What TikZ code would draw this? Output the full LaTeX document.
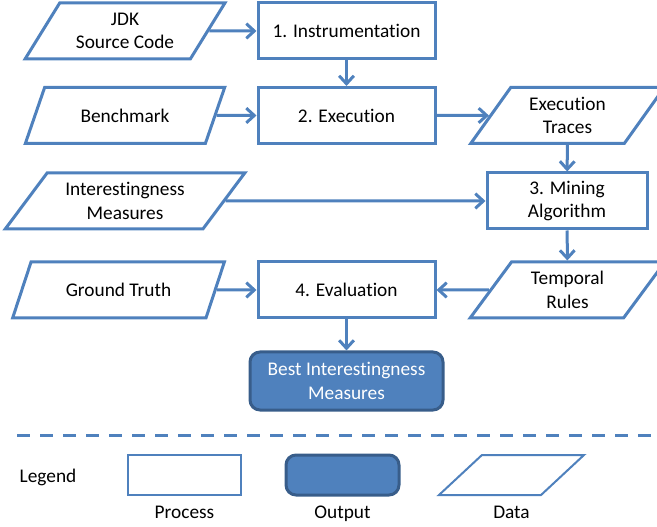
\documentclass[tikz,border=0pt]{standalone}
\usepackage{fontspec}
\setmainfont{Carlito}[Ligatures={NoCommon}]
\usetikzlibrary{shapes.geometric,arrows.meta}
\definecolor{flowblue}{RGB}{79,129,189}
\definecolor{flowdark}{RGB}{56,93,138}
\tikzset{every picture/.style={line width=2.25pt}}
\tikzset{
  flowtext/.style={font=\fontsize{14.5}{17.5}\selectfont, align=center, inner sep=0.75pt},
  procbox/.style={flowtext, draw=flowblue, fill=white, rectangle, minimum height=42pt},
  databox/.style={flowtext, draw=flowblue, fill=white, trapezium, trapezium stretches=true, minimum height=42pt},
  outbox/.style={flowtext, draw=flowdark, fill=flowblue, text=white, rectangle, rounded corners=7.5pt, minimum height=43.5pt},
  flowarrow/.style={draw=flowblue, -{Straight Barb[length=6pt,width=11pt]}},
}

\begin{document}
\begin{tikzpicture}[x=0.75pt,y=0.75pt,yscale=-1,xscale=1]
\useasboundingbox (0,0) rectangle (657,527);

%Shape: Parallelogram [id:jdk]
\node (jdk) [databox, trapezium left angle=55, trapezium right angle=125, minimum width=150pt] at (125,31) {JDK\\Source Code};
%Shape: Rectangle [id:instr]
\node (instr) [procbox, minimum width=132.75pt] at (346.5,31) {1. Instrumentation};
%Shape: Parallelogram [id:bench]
\node (bench) [databox, trapezium left angle=55, trapezium right angle=125, minimum width=150pt] at (125,115.5) {Benchmark};
%Shape: Rectangle [id:exec]
\node (exec) [procbox, minimum width=132.75pt] at (346.5,115.5) {2. Execution};
%Shape: Parallelogram [id:traces]
\node (traces) [databox, trapezium left angle=54.5, trapezium right angle=125.5, minimum width=146.25pt] at (567.5,115.5) {Execution\\Traces};
%Shape: Parallelogram [id:measures]
\node (measures) [databox, trapezium left angle=50, trapezium right angle=130, minimum width=180pt] at (125,201) {Interestingness\\Measures};
%Shape: Rectangle [id:mining]
\node (mining) [procbox, minimum width=120pt] at (567,201) {3. Mining\\Algorithm};
%Shape: Parallelogram [id:truth]
\node (truth) [databox, trapezium left angle=54, trapezium right angle=126, minimum width=159.75pt] at (118.5,290) {Ground Truth};
%Shape: Rectangle [id:eval]
\node (eval) [procbox, minimum width=132.75pt] at (346.5,290) {4. Evaluation};
%Shape: Parallelogram [id:rules]
\node (rules) [databox, trapezium left angle=54.5, trapezium right angle=125.5, minimum width=146.25pt] at (567.5,290) {Temporal\\Rules};
%Shape: Rounded Rect [id:best]
\node (best) [outbox, minimum width=144.75pt] at (346.5,381) {Best Interestingness\\Measures};

%Straight Lines
\draw [flowarrow] (jdk) -- (instr);
\draw [flowarrow] (instr) -- (exec);
\draw [flowarrow] (bench) -- (exec);
\draw [flowarrow] (exec) -- (traces);
\draw [flowarrow] (traces) -- (mining);
\draw [flowarrow] (measures) -- (mining);
\draw [flowarrow] (mining) -- (rules);
\draw [flowarrow] (rules) -- (eval);
\draw [flowarrow] (truth) -- (eval);
\draw [flowarrow] (eval) -- (best);

%Straight Lines [id:separator]
\draw [flowblue, dash pattern={on 9.75pt off 7.5pt}] (17,435) -- (657,435);

% Legend
\node (legend) [flowtext, anchor=base] at (48,482) {Legend};
\node (lgproc) [procbox, line width=1.5pt, minimum width=84.75pt, minimum height=30pt] at (184.5,475) {};
\node (lgout) [outbox, minimum width=84.75pt, minimum height=30pt] at (342.5,475) {};
\node (lgdata) [databox, line width=1.5pt, trapezium left angle=54, trapezium right angle=126, minimum width=108.75pt, minimum height=30pt] at (511.5,475) {};
% Text Node
\node (lgproctext) [flowtext, anchor=base] at (184.5,518) {Process};
% Text Node
\node (lgouttext) [flowtext, anchor=base] at (342.5,518) {Output};
% Text Node
\node (lgdatatext) [flowtext, anchor=base] at (511.5,518) {Data};

\end{tikzpicture}
\end{document}
